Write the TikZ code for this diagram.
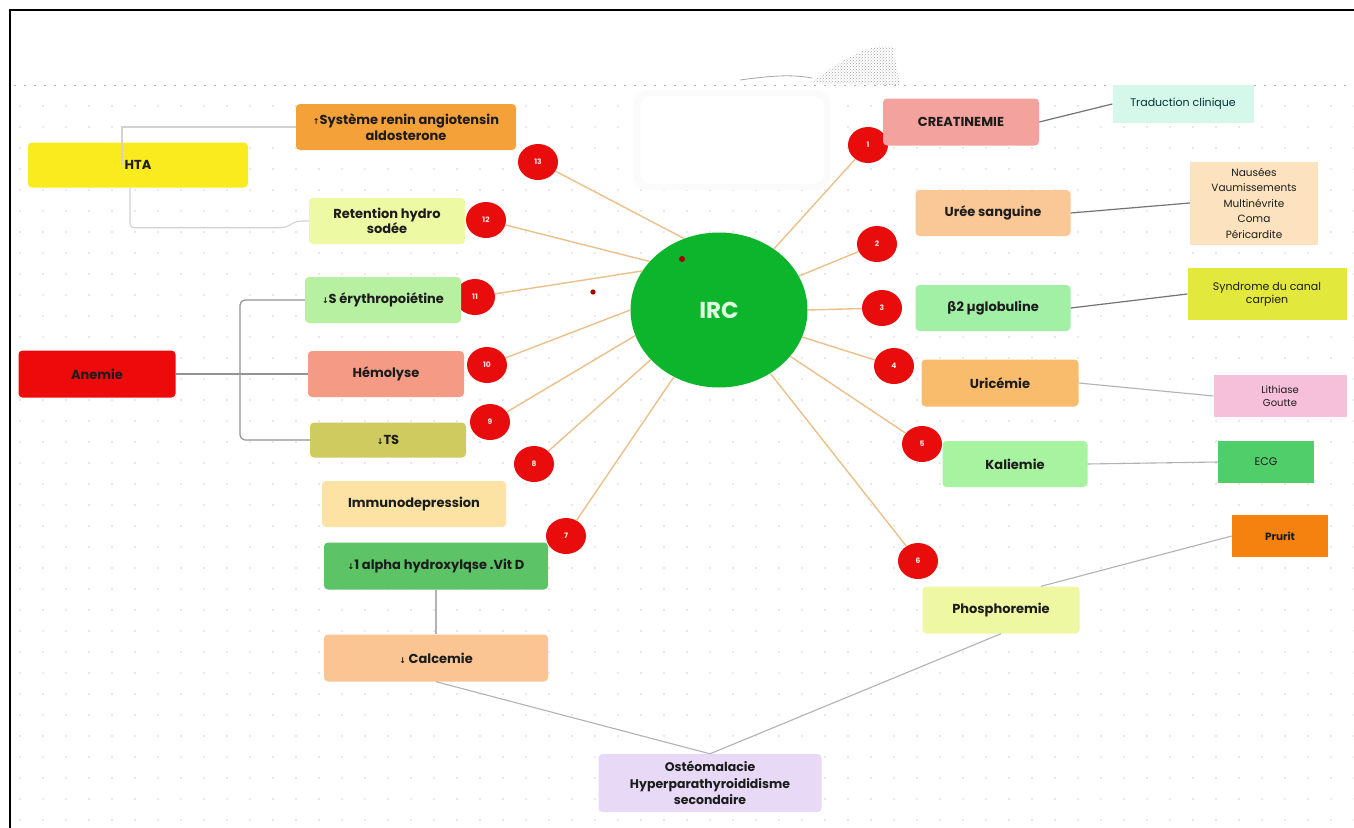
\documentclass[tikz,border=0pt]{standalone}
\usepackage{fontspec}
\setmainfont{Poppins}
\newfontfamily\symfont{DejaVu Sans}
\usetikzlibrary{shapes.geometric,patterns}
\definecolor{cHTA}{HTML}{FAEB1E}
\definecolor{cSRAA}{HTML}{F5A13A}
\definecolor{cRet}{HTML}{EDF9A3}
\definecolor{cEpo}{HTML}{B6F0A0}
\definecolor{cAne}{HTML}{EE0A0A}
\definecolor{cHem}{HTML}{F59A85}
\definecolor{cTS}{HTML}{CFCB5E}
\definecolor{cImm}{HTML}{FCE3A4}
\definecolor{cVitD}{HTML}{5CC466}
\definecolor{cCal}{HTML}{FAC592}
\definecolor{cOst}{HTML}{E8DAF7}
\definecolor{cPho}{HTML}{EEF8A2}
\definecolor{cPru}{HTML}{F5820F}
\definecolor{cKal}{HTML}{A7F3A0}
\definecolor{cECG}{HTML}{4FCE6A}
\definecolor{cUri}{HTML}{F8BC6C}
\definecolor{cLit}{HTML}{F6C0DA}
\definecolor{cB2}{HTML}{A2F0A6}
\definecolor{cSyn}{HTML}{E3E83C}
\definecolor{cUre}{HTML}{FAC896}
\definecolor{cNau}{HTML}{FCE2BE}
\definecolor{cCre}{HTML}{F4A29D}
\definecolor{cTrad}{HTML}{D6F8EA}
\definecolor{cIRC}{HTML}{0DB52C}
\definecolor{numred}{HTML}{E80C0C}
\definecolor{raycol}{HTML}{EBC08A}
\definecolor{txt}{HTML}{1C1C1C}
\definecolor{dotcol}{HTML}{D4D4D4}
\newcommand\myDown{{\symfont\fontsize{8}{8}\selectfont↓}}
\newcommand\myUp{{\symfont\fontsize{8}{8}\selectfont↑}}
\begin{document}
\begin{tikzpicture}[x=1pt,y=-1pt,
  box/.style={rectangle, rounded corners=4pt, minimum height=46pt, align=center, inner sep=2pt,
    font=\bfseries\fontsize{13}{15.5}\selectfont, text=txt},
  sq/.style={rectangle, align=center, inner sep=2pt, font=\fontsize{11}{13}\selectfont, text=txt},
  num/.style={ellipse, fill=numred, minimum width=40pt, minimum height=36pt, inner sep=0pt,
    text=white!90!red, font=\bfseries\fontsize{7.5}{7.5}\selectfont},
  ray/.style={draw=raycol, line width=1.4pt},
  lgl/.style={draw=gray!35, line width=1.1pt},
  dgl/.style={draw=gray!85, line width=1.2pt},
  dlink/.style={draw=gray!90!black, line width=1.2pt},
  mlink/.style={draw=gray!60, line width=1.1pt}]
\useasboundingbox (0,0) rectangle (1354,827);
\fill[white] (0,0) rectangle (1354,827);
% dot grid
\foreach \i in {0,...,58} {
  \foreach \j in {1,...,35} {
    \fill[dotcol] (20+\i*23, 85+\j*21) circle (0.9pt);
  }
}
\draw[gray!60, dash pattern=on 2pt off 8pt, line width=0.9pt] (14,85) -- (1354,85);
% artifact blob at the top
\fill[pattern=crosshatch dots, pattern color=gray!70] (810,83) .. controls (840,62) and (868,42) .. (893,47) -- (900,85) -- cycle;
\draw[gray!70, line width=0.8pt] (740,80) .. controls (770,76) and (790,74) .. (812,78);
% frame
\draw[black, line width=1.6pt] (10,840) -- (10,10) -- (1360,10);
% white shadow box
\fill[gray!3, rounded corners=14pt] (634,90) rectangle (830,190);
\fill[white, rounded corners=10pt] (641,96) rectangle (824,184);
% central node
\node[ellipse, fill=cIRC, minimum width=177pt, minimum height=155pt, inner sep=0pt,
  text=white!88!green, font=\bfseries\fontsize{23}{23}\selectfont] (irc) at (719,310) {IRC};
% numbered circles
\node[num] (n13) at (538,162) {13};
\node[num] (n12) at (486,220) {12};
\node[num] (n11) at (475,297) {11};
\node[num] (n10) at (487,365) {10};
\node[num] (n9) at (490,422) {9};
\node[num] (n8) at (534,464) {8};
\node[num] (n7) at (566,536) {7};
\node[num] (n1) at (868,145) {1};
\node[num] (n2) at (877,244) {2};
\node[num] (n3) at (882,308) {3};
\node[num] (n4) at (894,366) {4};
\node[num] (n5) at (922,444) {5};
\node[num] (n6) at (918,561) {6};
% rays
\draw[ray] (irc.116) -- (n13);
\draw[ray] (irc.145) -- (n12);
\draw[ray] (irc.153) -- (n11);
\draw[ray] (irc.180) -- (n10);
\draw[ray] (irc.197) -- (n9);
\draw[ray] (irc.216) -- (n8);
\draw[ray] (irc.236) -- (n7);
\draw[ray] (irc.48) -- (n1);
\draw[ray] (irc.23) -- (n2);
\draw[ray] (irc.0) -- (n3);
\draw[ray] (irc.-18) -- (n4);
\draw[ray] (irc.-33) -- (n5);
\draw[ray] (irc.-51) -- (n6);
% small red dots
\fill[red!65!black] (682,259) circle (3pt);
\fill[red!65!black] (593,292) circle (2.6pt);
% left nodes
\node[box, fill=cHTA, minimum width=220pt, minimum height=45pt] (hta) at (138,165) {HTA};
\node[box, fill=cSRAA, minimum width=220pt] (sraa) at (406,127) {\myUp Système renin angiotensin\\aldosterone};
\node[box, fill=cRet, minimum width=156pt] (ret) at (387,221) {Retention hydro\\sodée};
\node[box, fill=cEpo, minimum width=156pt] (epo) at (383,300) {\myDown S érythropoiétine};
\node[box, fill=cAne, minimum width=157pt, minimum height=47pt] (ane) at (97,374) {Anemie};
\node[box, fill=cHem, minimum width=156pt] (hem) at (386,374) {Hémolyse};
\node[box, fill=cTS, minimum width=156pt, minimum height=35pt] (ts) at (388,440) {\myDown TS};
\node[box, fill=cImm, minimum width=184pt] (imm) at (414,504) {Immunodepression};
\node[box, fill=cVitD, minimum width=224pt, minimum height=47pt] (vitd) at (436,566) {\myDown 1 alpha hydroxylqse .Vit D};
\node[box, fill=cCal, minimum width=224pt, minimum height=47pt] (cal) at (436,658) {\myDown\ Calcemie};
\node[box, fill=cOst, minimum width=223pt, minimum height=58pt, font=\bfseries\fontsize{12.5}{16.5}\selectfont] (ost) at (710,783) {Ostéomalacie\\Hyperparathyroididisme\\secondaire};
% right nodes
\node[box, fill=cCre, minimum width=156pt, minimum height=47pt] (cre) at (961,122) {CREATINEMIE};
\node[sq, fill=cTrad, minimum width=141pt, minimum height=38pt, text=teal!40!black] (trad) at (1183,104) {Traduction clinique};
\node[box, fill=cUre, minimum width=155pt] (ure) at (993,213) {Urée sanguine};
\node[sq, fill=cNau, minimum width=128pt, minimum height=83pt, font=\fontsize{10.5}{15.5}\selectfont] (nau) at (1254,203) {Nausées\\Vaumissements\\Multinévrite\\Coma\\Péricardite};
\node[box, fill=cB2, minimum width=155pt] (b2) at (993,308) {{\symfont\bfseries β}2 µglobuline};
\node[sq, fill=cSyn, minimum width=159pt, minimum height=52pt] (syn) at (1267,294) {Syndrome du canal\\carpien};
\node[box, fill=cUri, minimum width=157pt, minimum height=47pt] (uri) at (1000,383) {Uricémie};
\node[sq, fill=cLit, minimum width=133pt, minimum height=42pt, font=\fontsize{10}{13}\selectfont] (lit) at (1280,396) {Lithiase\\Goutte};
\node[box, fill=cKal, minimum width=145pt] (kal) at (1015,464) {Kaliemie};
\node[sq, fill=cECG, minimum width=96pt, minimum height=42pt, font=\fontsize{11}{13}\selectfont] (ecg) at (1266,462) {ECG};
\node[sq, fill=cPru, minimum width=96pt, minimum height=42pt, font=\bfseries\fontsize{10.5}{13}\selectfont] (pru) at (1280,536) {Prurit};
\node[box, fill=cPho, minimum width=157pt, minimum height=47pt] (pho) at (1001,610) {Phosphoremie};
% HTA bracket
\draw[lgl] ([xshift=-16pt]hta.center) |- (sraa.west);
\draw[lgl, rounded corners=4pt] ([xshift=-8pt]hta.south) -- ++(0,40) -- ++(155,0) -- ([xshift=-12pt]ret.west) -- (ret.west);
% anemia bracket
\coordinate (aj) at (240,440);
\draw[dgl] (ane.east) -- (hem.west);
\draw[dgl, rounded corners=5pt] (epo.west) -| (aj) -- (ts.west);
% right links
\draw[dlink] (cre.east) -- (trad.west);
\draw[dlink] (ure.east) -- (nau.west);
\draw[dlink] (b2.east) -- (syn.west);
\draw[mlink] (uri.east) -- (lit.west);
\draw[mlink] (kal.east) -- (ecg.west);
\draw[mlink] ([xshift=40pt]pho.north) -- (pru.west);
% bottom links
\draw[mlink] (vitd.south) -- (cal.north);
\draw[mlink] (cal.south) -- (ost.north);
\draw[mlink] (ost.north) -- (pho.south);
\end{tikzpicture}
\end{document}
